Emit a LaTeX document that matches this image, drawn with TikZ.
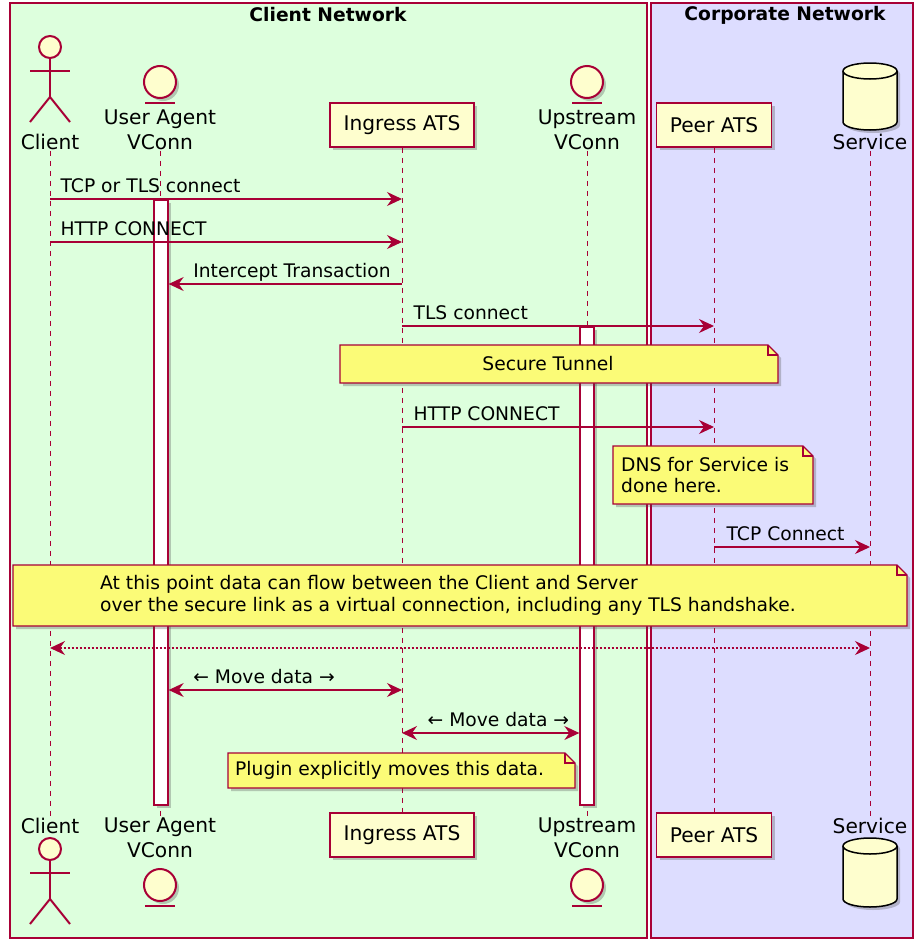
\documentclass[tikz,border=0pt]{standalone}
\usepackage{fontspec}
\setmainfont{DejaVu Sans}
\usetikzlibrary{arrows.meta,shadows}

\definecolor{umlred}{HTML}{A80036}
\definecolor{partfill}{HTML}{FEFECE}
\definecolor{notefill}{HTML}{FBFB77}
\definecolor{clientbg}{HTML}{DDFFDD}
\definecolor{corpbg}{HTML}{DDDDFF}

\tikzset{
  umlshadow/.style={drop shadow={shadow xshift=3pt,shadow yshift=-3pt,opacity=.3,fill=black!70}},
  netbox/.style={draw=umlred,line width=1.3pt},
  nettitle/.style={font=\fontsize{18.7}{22}\selectfont\bfseries,inner sep=0pt},
  parttxt/.style={font=\fontsize{20.2}{24.5}\selectfont,inner sep=1pt},
  partbox/.style={draw=umlred,fill=partfill,line width=1.5pt,minimum height=44pt,inner sep=0pt,umlshadow,
    font=\fontsize{20.2}{24}\selectfont},
  figure/.style={draw=umlred,line width=2pt},
  lifeline/.style={umlred,line width=1pt,dash pattern=on 5pt off 5pt},
  actbar/.style={draw=umlred,fill=white,line width=1.3pt,minimum width=14pt,inner sep=0pt,umlshadow},
  msg/.style={umlred,line width=1.3pt,-{Stealth[length=15pt,width=14pt,inset=5pt]}},
  bothmsg/.style={msg,{Stealth[length=15pt,width=14pt,inset=5pt]}-{Stealth[length=15pt,width=14pt,inset=5pt]}},
  msgtxt/.style={font=\fontsize{18.7}{22}\selectfont,text=black,anchor=base west,inner sep=0pt,yshift=7pt},
  notebox/.style={draw=umlred,fill=notefill,line width=1.3pt,umlshadow},
  notefold/.style={draw=umlred,line width=1.3pt},
  notetxt/.style={font=\fontsize{18.7}{21.5}\selectfont,inner sep=0pt}
}

% figures of the participants
\newcommand{\umlactor}[2]{%
  \draw[figure,fill=partfill] (#1,#2) circle[radius=11pt];
  \draw[figure] (#1,#2+11) -- (#1,#2+50);
  \draw[figure] (#1-20,#2+24) -- (#1+20,#2+24);
  \draw[figure] (#1-20,#2+75) -- (#1,#2+50) -- (#1+20,#2+75);
}
\newcommand{\umlentity}[2]{%
  \draw[figure,fill=partfill,umlshadow] (#1,#2) circle[radius=16pt];
  \draw[figure] (#1-15,#2+21) -- (#1+15,#2+21);
}
\newcommand{\umldatabase}[3]{%
  \filldraw[draw=black,fill=partfill,line width=1.5pt,umlshadow] (#1-27,#2) -- (#1-27,#3)
    arc[start angle=180,end angle=360,x radius=27pt,y radius=8pt] -- (#1+27,#2)
    arc[start angle=0,end angle=180,x radius=27pt,y radius=8pt] -- cycle;
  \draw[black,line width=1.5pt] (#1-27,#2) arc[start angle=180,end angle=360,x radius=27pt,y radius=8pt];
}
\newcommand{\umlnote}[4]{%
  \filldraw[notebox] (#1,#2) -- (#3-10,#2) -- (#3,#2+10) -- (#3,#4) -- (#1,#4) -- cycle;
  \draw[notefold] (#3-10,#2) -- (#3-10,#2+10) -- (#3,#2+10);
}

\begin{document}
\begin{tikzpicture}[x=1pt,y=-1pt]
\useasboundingbox (0,0) rectangle (915,940);

% the two networks
\draw[netbox,fill=clientbg] (10,3) rectangle (647,938);
\draw[netbox,fill=corpbg] (651,3) rectangle (913,938);
\node[nettitle] (clientnet) at (328,15) {Client Network};
\node[nettitle] (corpnet) at (785,15) {Corporate Network};

% participants, top
\umlactor{50}{47}
\node[parttxt] (tclient) at (50,142) {Client};
\umlentity{160}{82}
\node[parttxt,align=center] (tua) at (160,130) {User Agent\\VConn};
\node[partbox,minimum width=144pt] (tingress) at (402,125) {Ingress ATS};
\umlentity{587}{82}
\node[parttxt,align=center] (tup) at (587,130) {Upstream\\VConn};
\node[partbox,minimum width=115pt] (tpeer) at (714,125) {Peer ATS};
\umldatabase{870}{71}{122}
\node[parttxt] (tservice) at (870,142) {Service};

% participants, bottom
\node[parttxt] (bclient) at (50,826) {Client};
\umlactor{50}{849}
\node[parttxt,align=center] (bua) at (160,838) {User Agent\\VConn};
\umlentity{160}{885}
\node[partbox,minimum width=144pt] (bingress) at (402,835) {Ingress ATS};
\node[parttxt,align=center] (bup) at (587,838) {Upstream\\VConn};
\umlentity{587}{885}
\node[partbox,minimum width=115pt] (bpeer) at (714,835) {Peer ATS};
\node[parttxt] (bservice) at (870,826) {Service};
\umldatabase{870}{846}{899}

% lifelines
\foreach \p in {client,ua,ingress,up,peer,service}
  \draw[lifeline] (t\p) -- (b\p);

% activations
\node[actbar,minimum height=605pt] (uabar) at (161,502.5) {};
\node[actbar,minimum height=478pt] (upbar) at (587,566) {};

% messages
\draw[msg] (tclient |- 0,199) -- (tingress |- 0,199) node[msgtxt,pos=0,xshift=10pt] {TCP or TLS connect};
\draw[msg] (tclient |- 0,242) -- (tingress |- 0,242) node[msgtxt,pos=0,xshift=10pt] {HTTP CONNECT};
\draw[msg] (tingress |- 0,284) -- (uabar.east |- 0,284) node[msgtxt,pos=1,xshift=24pt] {Intercept Transaction};
\draw[msg] (tingress |- 0,326) -- (tpeer |- 0,326) node[msgtxt,pos=0,xshift=11pt] {TLS connect};
\umlnote{340}{345}{778}{383}
\node[notetxt] (tunnel) at (548,364) {Secure Tunnel};
\draw[msg] (tingress |- 0,427) -- (tpeer |- 0,427) node[msgtxt,pos=0,xshift=11pt] {HTTP CONNECT};
\umlnote{613}{446}{813}{504}
\node[notetxt,align=left,anchor=west] (dns) at (621,475) {DNS for Service is\\done here.};
\draw[msg] (tpeer |- 0,547) -- (tservice |- 0,547) node[msgtxt,pos=0,xshift=12pt] {TCP Connect};
\umlnote{13}{565}{907}{626}
\node[notetxt,align=left,anchor=west] (flow) at (100,595.5) {At this point data can flow between the Client and Server\\over the secure link as a virtual connection, including any TLS handshake.};
\draw[bothmsg,dash pattern=on 2pt off 2pt] (tclient |- 0,648) -- (tservice |- 0,648);
\draw[bothmsg] (uabar.east |- 0,690) -- (tingress |- 0,690) node[msgtxt,pos=0,xshift=24pt] {← Move data →};
\draw[bothmsg] (tingress |- 0,733) -- (upbar.west |- 0,733) node[msgtxt,pos=0,xshift=25pt] {← Move data →};
\umlnote{228}{753}{575}{788}
\node[notetxt,anchor=west] (plugin) at (235,770) {Plugin explicitly moves this data.};
\end{tikzpicture}
\end{document}
